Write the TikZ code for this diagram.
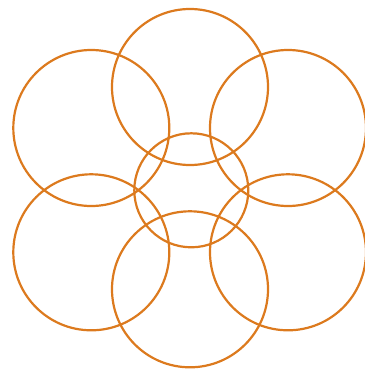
\documentclass[tikz,border=0pt]{standalone}
\usepackage{xcolor}
\usepackage{tikz}
\definecolor{mRingOrange}{HTML}{DC7A1E}

\begin{document}
\begin{tikzpicture}[
        x=1pt, y=-1pt,
        ring/.style={draw=mRingOrange, line width=2.2pt},
    ]
        \useasboundingbox (0,0) rectangle (364,372);
        % top and bottom rings
        \draw[ring] (190,87) circle (78);
        \draw[ring] (190,289.3) circle (78);
        % side rings
        \draw[ring] (91.3,128) circle (78);
        \draw[ring] (288,128) circle (78);
        \draw[ring] (91.3,252.3) circle (78);
        \draw[ring] (288,252.3) circle (78);
        % small middle ring
        \draw[ring] (191.3,190.3) circle (57);
    \end{tikzpicture}
\end{document}
